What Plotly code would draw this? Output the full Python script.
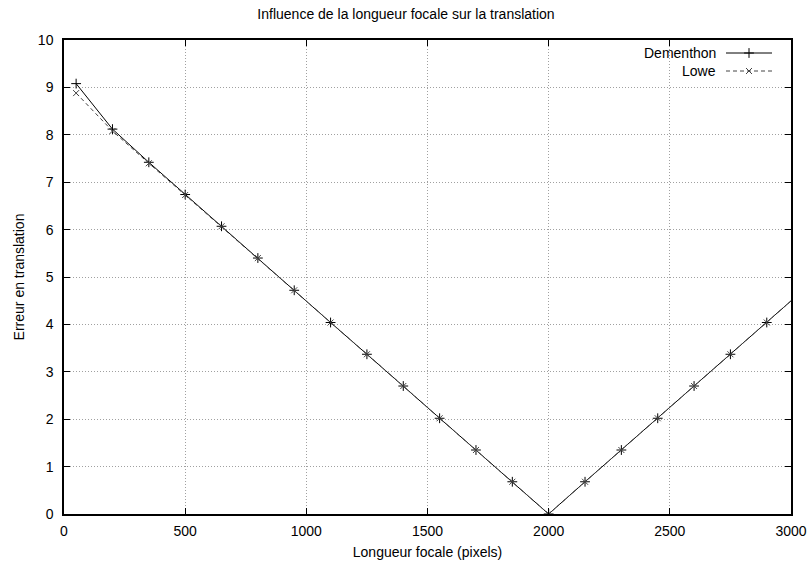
import plotly.graph_objects as go

focale = [50, 200, 350, 500, 650, 800, 950, 1100, 1250, 1400, 1550, 1700, 1850,
          2000, 2150, 2300, 2450, 2600, 2750, 2900, 3050]
dementhon = [9.08, 8.12, 7.42, 6.74, 6.07, 5.40, 4.72, 4.04, 3.37, 2.70, 2.02, 1.35, 0.68,
             0.0, 0.68, 1.35, 2.02, 2.70, 3.37, 4.04, 4.72]
lowe = [8.88, 8.08, 7.40, 6.73, 6.07, 5.40, 4.72, 4.04, 3.37, 2.70, 2.02, 1.35, 0.68,
        0.0, 0.68, 1.35, 2.02, 2.70, 3.37, 4.04, 4.72]
series_names = ["Dementhon", "Lowe"]
x_ticks = [0, 500, 1000, 1500, 2000, 2500, 3000]
y_ticks = [0, 1, 2, 3, 4, 5, 6, 7, 8, 9, 10]

FONT = "Liberation Sans"
FS = 14
DASH = "4px,3px"
GREY = "#444444"
fig = go.Figure()
fig.add_trace(go.Scatter(x=focale, y=dementhon, mode="lines+markers", name=series_names[0],
                         line=dict(color="black", width=1),
                         marker=dict(symbol="cross-thin", size=7, line=dict(color="black", width=1)),
                         showlegend=False))
fig.add_trace(go.Scatter(x=focale, y=lowe, mode="lines+markers", name=series_names[1],
                         line=dict(color=GREY, width=1, dash=DASH),
                         marker=dict(symbol="x-thin", size=6, line=dict(color=GREY, width=1)),
                         showlegend=False))

# manual gnuplot-style legend on an overlay axis in pixel units of the plot area
L, R, T, B = 64, 21, 40, 53
W, H = 812 - L - R, 567 - T - B
leg_y = [53 - T, 71 - T]
for i, (nm, col, sym, dash, sz) in enumerate([(series_names[0], "black", "cross-thin", "solid", 7),
                                              (series_names[1], GREY, "x-thin", DASH, 6)]):
    fig.add_trace(go.Scatter(x=[726 - L, 749 - L, 772 - L], y=[leg_y[i]] * 3, mode="lines", xaxis="x2", yaxis="y2",
                             line=dict(color=col, width=1, dash=dash), showlegend=False, hoverinfo="skip"))
    fig.add_trace(go.Scatter(x=[749 - L], y=[leg_y[i]], mode="markers", xaxis="x2", yaxis="y2",
                             marker=dict(symbol=sym, size=sz, line=dict(color=col, width=1)),
                             showlegend=False, hoverinfo="skip"))
    fig.add_annotation(x=718 - L, y=leg_y[i], xref="x2", yref="y2", text=nm, showarrow=False,
                       xanchor="right", yanchor="middle", font=dict(family=FONT, size=FS, color="black"))

axis_common = dict(showline=True, linecolor="black", linewidth=1.5, mirror="allticks",
                   ticks="inside", ticklen=6, tickcolor="black", tickwidth=1,
                   showgrid=True, gridcolor="#a0a0a0", griddash="1px,2px", gridwidth=1,
                   zeroline=False, tickfont=dict(family=FONT, size=FS, color="black"))
fig.update_layout(
    width=812, height=567,
    margin=dict(l=L, r=R, t=T, b=B, autoexpand=False),
    paper_bgcolor="white", plot_bgcolor="white",
    title=dict(text="Influence de la longueur focale sur la translation", x=0.5, xanchor="center",
               y=1 - 14 / 567, yanchor="middle", font=dict(family=FONT, size=FS, color="black")),
    xaxis=dict(range=[0, 3000], tickvals=x_ticks, ticklabelstandoff=3, **axis_common,
               title=dict(text="Longueur focale (pixels)", standoff=10, font=dict(family=FONT, size=FS, color="black"))),
    yaxis=dict(range=[0, 10], tickvals=y_ticks, ticklabelstandoff=6, **axis_common,
               title=dict(text="Erreur en translation", standoff=10, font=dict(family=FONT, size=FS, color="black"))),
    xaxis2=dict(overlaying="x", range=[0, W], visible=False, fixedrange=True),
    yaxis2=dict(overlaying="y", range=[H, 0], visible=False, fixedrange=True),
    showlegend=False,
)
fig.write_html("out.html", config={"displayModeBar": False},
               post_script="document.body.style.margin='0';")
